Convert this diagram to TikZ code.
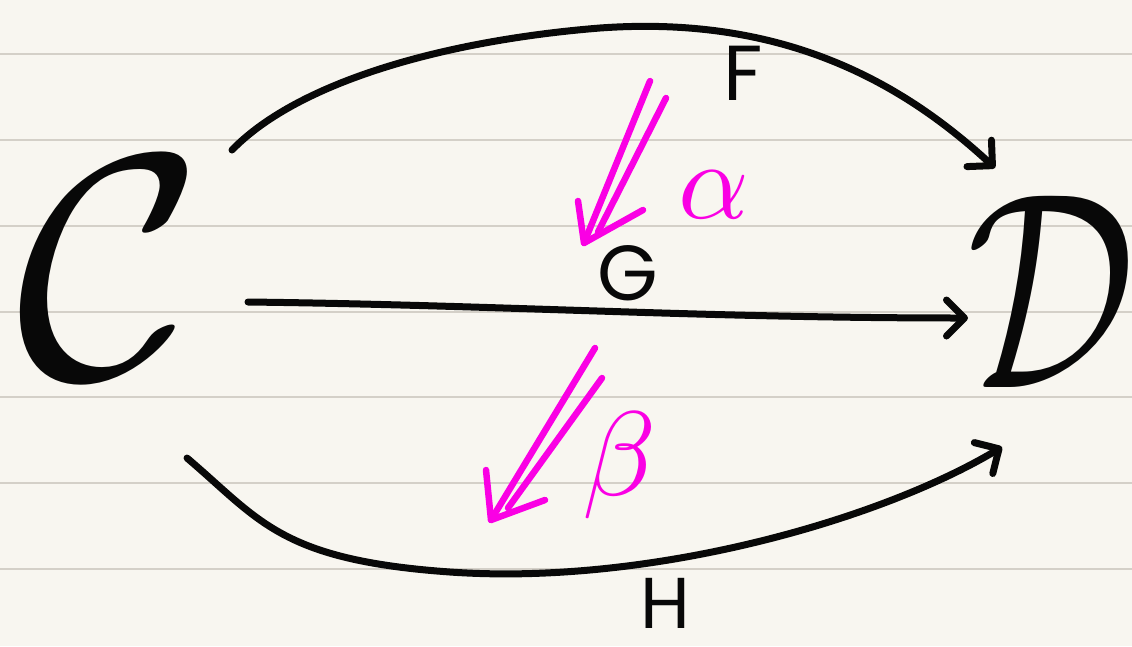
\documentclass[tikz,border=0pt]{standalone}
\usepackage{fontspec}
\newfontfamily\hand{Poppins}
\usetikzlibrary{arrows.meta,calc}
\definecolor{paper}{RGB}{248,246,240}
\definecolor{ruling}{RGB}{212,208,200}
\definecolor{ink}{RGB}{8,8,8}
\definecolor{pinkink}{RGB}{250,0,228}
\begin{document}
\begin{tikzpicture}[x=1pt,y=-1pt,
  functor/.style={draw=ink,line width=7pt,line cap=round,
    -{Straight Barb[length=18pt,width=36pt,round]}},
  cellline/.style={draw=pinkink,line width=6.5pt,line cap=round,line join=round},
  lab/.style={text=ink,inner sep=0pt,font=\hand\fontsize{78}{78}\selectfont},
  glab/.style={text=pinkink,inner sep=0pt},
  cat/.style={text=ink,inner sep=0pt}]
\fill[paper] (0,0) rectangle (1132,646);
\useasboundingbox (0,0) rectangle (1132,646);
\foreach \yy in {54,140,226,312,397,483,569}
  \draw[ruling,line width=2pt] (0,\yy) -- (1132,\yy);
% categories
\node[cat,scale=32] (C) at (110,268) {$\mathcal{C}$};
\node[cat,xscale=21,yscale=28] (D) at (1051,292) {$\mathcal{D}$};
% functors
\draw[functor] ($(C)+(122,-118)$) .. controls (300,80) and (450,40) .. (600,28)
  .. controls (780,15) and (900,80) .. ($(D)+(-56,-124)$);
\draw[functor] ($(C)+(138,34)$) .. controls (500,305) and (700,318) .. ($(D)+(-83,26)$);
\draw[functor] ($(C)+(77,190)$) .. controls (260,520) and (280,560) .. (450,572)
  .. controls (650,586) and (880,520) .. ($(D)+(-49,155)$);
\node[lab] (F) at (743,73) {F};
\node[lab] (G) at (628,273) {G};
\node[lab,font=\hand\fontsize{72}{72}\selectfont] (H) at (665,603) {H};
% natural transformation alpha
\coordinate (a1) at (650,81);
\coordinate (a2) at (666,98);
\coordinate (at) at (584,243);
\coordinate (ai) at (598,232);
\coordinate (al) at (578,201);
\coordinate (ar) at (643,210);
\draw[cellline] (a1) -- (at);
\draw[cellline] (a2) -- (ai);
\draw[cellline] (al) -- (at) -- (ar);
% natural transformation beta
\coordinate (b1) at (595,348);
\coordinate (b2) at (602,378);
\coordinate (bt) at (491,520);
\coordinate (bi) at (508,508);
\coordinate (bl) at (486,470);
\coordinate (br) at (545,500);
\draw[cellline] (b1) -- (bt);
\draw[cellline] (b2) -- (bi);
\draw[cellline] (bl) -- (bt) -- (br);
\node[glab,scale=11] (alpha) at (714,195) {$\alpha$};
\node[glab,scale=12] (beta) at (620,465) {$\beta$};
\end{tikzpicture}
\end{document}
